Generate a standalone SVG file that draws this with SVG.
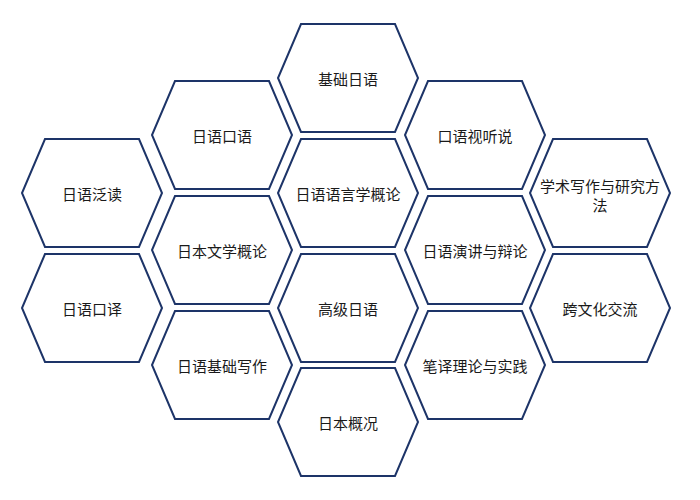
<svg xmlns="http://www.w3.org/2000/svg" width="700" height="500" viewBox="0 0 700 500">
<defs>
<polygon id="hx" points="-47,-54 47,-54 70,0 47,54 -47,54 -70,0"/>
</defs>
<style>
use{fill:#fff;stroke:#1d3468;stroke-width:2}
text{font-family:"Noto Sans CJK SC","Noto Sans",sans-serif;font-size:15px;fill:#1a1a1a;text-anchor:middle;dominant-baseline:central}
</style>
<rect width="700" height="500" fill="#fff"/>
<g id="connectors"/>
<g id="n1"><use href="#hx" x="348" y="78"/><text x="348" y="78">基础日语</text></g>
<g id="n2"><use href="#hx" x="222" y="135"/><text x="222" y="135">日语口语</text></g>
<g id="n3"><use href="#hx" x="475" y="135"/><text x="475" y="135">口语视听说</text></g>
<g id="n4"><use href="#hx" x="92" y="193"/><text x="92" y="193">日语泛读</text></g>
<g id="n5"><use href="#hx" x="348" y="193"/><text x="348" y="193">日语语言学概论</text></g>
<g id="n6"><use href="#hx" x="600" y="193"/><text x="600" y="185">学术写作与研究方</text><text x="600" y="204">法</text></g>
<g id="n7"><use href="#hx" x="222" y="250"/><text x="222" y="250">日本文学概论</text></g>
<g id="n8"><use href="#hx" x="475" y="250"/><text x="475" y="250">日语演讲与辩论</text></g>
<g id="n9"><use href="#hx" x="92" y="308"/><text x="92" y="308">日语口译</text></g>
<g id="n10"><use href="#hx" x="348" y="308"/><text x="348" y="308">高级日语</text></g>
<g id="n11"><use href="#hx" x="600" y="308"/><text x="600" y="308">跨文化交流</text></g>
<g id="n12"><use href="#hx" x="222" y="365"/><text x="222" y="365">日语基础写作</text></g>
<g id="n13"><use href="#hx" x="475" y="365"/><text x="475" y="365">笔译理论与实践</text></g>
<g id="n14"><use href="#hx" x="348" y="422"/><text x="348" y="422">日本概况</text></g>
</svg>
